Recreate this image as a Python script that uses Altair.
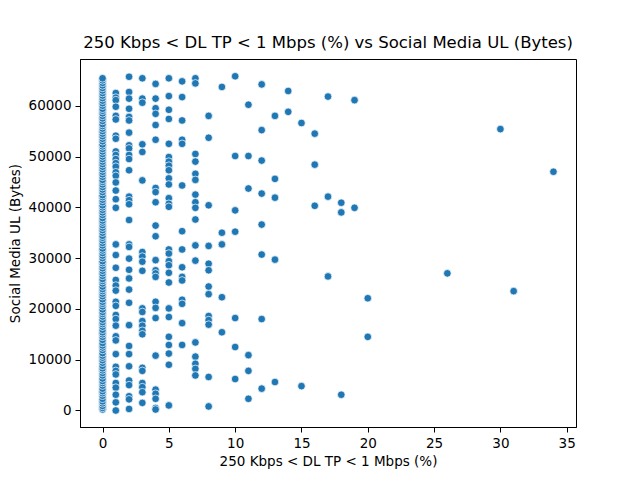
import altair as alt
import pandas as pd

TITLE = "250 Kbps < DL TP < 1 Mbps (%) vs Social Media UL (Bytes)"
X_LABEL = "250 Kbps < DL TP < 1 Mbps (%)"
Y_LABEL = "Social Media UL (Bytes)"

x_ticks = [0, 5, 10, 15, 20, 25, 30, 35]
y_ticks = [0, 10000, 20000, 30000, 40000, 50000, 60000]

# Social Media UL values (thousands of bytes), grouped by DL TP percentage
ul_0 = [0.2, 0.5, 0.9, 1.4, 1.8, 2.3, 2.9, 3.4, 3.8, 4.3, 4.9, 5.4, 5.8, 6.3, 6.9, 7.4,
        7.9, 8.3, 8.8, 9.4, 9.9, 10.4, 10.8, 11.3, 11.9, 12.4, 12.8, 13.3, 13.9, 14.5,
        15.0, 15.4, 15.9, 16.5, 17.0, 17.4, 17.9, 18.5, 19.0, 19.4, 19.9, 20.5, 21.0,
        21.4, 21.9, 22.5, 23.0, 23.5, 23.9, 24.4, 25.0, 25.5, 25.9, 26.5, 27.0, 27.5,
        28.0, 28.5, 29.0, 29.4, 30.0, 30.5, 31.0, 31.5, 31.9, 32.5, 33.0, 33.5, 34.0,
        34.4, 35.0, 35.5, 36.0, 36.5, 37.0, 37.4, 37.9, 38.5, 39.0, 39.5, 40.0, 40.4,
        41.0, 41.5, 42.0, 42.4, 43.0, 43.5, 44.0, 44.5, 45.0, 45.4, 46.0, 46.5, 47.0,
        47.5, 48.0, 48.5, 49.0, 49.5, 50.0, 50.5, 51.0, 51.5, 52.0, 52.4, 53.0, 53.5,
        54.0, 54.5, 55.0, 55.5, 56.0, 56.4, 57.0, 57.5, 58.0, 58.5, 59.0, 59.4, 60.0,
        60.5, 61.0, 61.5, 62.0, 62.5, 63.0, 63.5, 64.0, 64.5, 65.0, 65.4]
ul_1 = [62.5, 61.6, 61.1, 59.8, 58.0, 57.3, 54.1, 53.5, 51.0, 50.3, 49.5, 48.7, 48.0,
        46.9, 46.2, 44.9, 43.3, 41.6, 39.9, 32.7, 30.6, 28.1, 25.7, 24.6, 23.6, 21.4,
        20.6, 18.8, 18.0, 16.7, 14.6, 13.8, 11.1, 8.6, 7.8, 7.1, 5.4, 4.5, 3.1, 1.6, 0.0]
ul_2 = [65.7, 62.7, 61.4, 59.4, 57.8, 57.1, 54.7, 52.2, 51.6, 50.3, 49.5, 47.3, 42.1,
        41.4, 40.6, 37.5, 32.7, 32.2, 29.9, 27.7, 26.0, 23.8, 21.2, 16.8, 12.7, 11.1,
        8.7, 5.9, 5.0, 2.8, 2.2, 0.3]
ul_3 = [65.4, 61.4, 60.6, 52.4, 50.9, 45.3, 31.2, 30.3, 29.3, 27.5, 20.1, 19.4, 17.6,
        16.7, 15.7, 15.0, 8.4, 7.8, 5.4, 4.6, 3.6, 1.5]
ul_4 = [64.3, 61.4, 59.5, 58.4, 56.2, 53.3, 43.8, 43.0, 41.0, 36.4, 34.3, 29.6, 27.6,
        27.0, 26.3, 21.4, 20.2, 18.2, 10.8, 4.1, 3.3, 2.3, 0.5, 0.2]
ul_5 = [65.4, 61.9, 59.2, 57.4, 52.5, 49.9, 49.0, 48.2, 47.3, 45.7, 44.5, 41.8, 40.7,
        40.1, 31.7, 30.9, 29.4, 28.6, 27.1, 25.2, 20.1, 18.4, 14.5, 12.9, 11.2, 9.0, 1.0]
ul_6 = [64.8, 61.7, 57.1, 53.3, 52.5, 44.3, 35.3, 31.7, 28.2, 26.3, 25.6, 21.8, 21.0,
        17.2, 12.9]
ul_7 = [65.4, 64.4, 50.5, 49.0, 46.6, 45.4, 42.5, 41.0, 39.9, 37.6, 32.5, 29.5, 13.4,
        10.6, 9.2, 8.2, 6.9]
ul_8 = [58.0, 53.7, 40.4, 32.4, 28.9, 27.6, 24.4, 22.9, 18.6, 17.8, 16.9, 6.6, 0.8]
ul_9 = [63.7, 35.0, 32.7, 22.3, 15.4]
ul_10 = [65.8, 50.1, 39.4, 35.2, 18.2, 12.5, 6.2]
ul_11 = [60.2, 50.1, 43.7, 10.9, 7.8, 2.3]
ul_12 = [64.2, 55.2, 49.2, 42.7, 36.6, 30.7, 18.0, 4.3]
ul_13 = [58.0, 45.6, 41.9, 29.7, 5.6]
ul_14 = [62.9, 58.8]
ul_15 = [56.6, 4.8]
ul_16 = [54.5, 48.4, 40.3]
ul_17 = [61.8, 42.1, 26.4]
ul_18 = [40.9, 39.0, 3.1]
ul_19 = [61.1, 39.9]
ul_20 = [22.1, 14.5]
ul_26 = [27.0]
ul_30 = [55.4]
ul_31 = [23.5]
ul_34 = [47.0]

groups = {0: ul_0, 1: ul_1, 2: ul_2, 3: ul_3, 4: ul_4, 5: ul_5, 6: ul_6, 7: ul_7,
          8: ul_8, 9: ul_9, 10: ul_10, 11: ul_11, 12: ul_12, 13: ul_13, 14: ul_14,
          15: ul_15, 16: ul_16, 17: ul_17, 18: ul_18, 19: ul_19, 20: ul_20,
          26: ul_26, 30: ul_30, 31: ul_31, 34: ul_34}

rows = [{"dl": k, "ul": round(v * 1000)} for k, vals in groups.items() for v in vals]
df = pd.DataFrame(rows)

FONT = "DejaVu Sans"

chart = alt.Chart(df).mark_circle(
    size=58, color="#1f77b4", opacity=1, stroke="white", strokeWidth=0.7
).encode(
    x=alt.X("dl:Q",
            scale=alt.Scale(domain=[-1.7, 35.7], nice=False, zero=False),
            axis=alt.Axis(values=x_ticks, format="d", title=X_LABEL, titlePadding=5)),
    y=alt.Y("ul:Q",
            scale=alt.Scale(domain=[-3250, 69200], nice=False, zero=False),
            axis=alt.Axis(values=y_ticks, format="d", title=Y_LABEL, titlePadding=6)),
).properties(
    width=496,
    height=368,
    title=alt.TitleParams(TITLE, fontSize=16.5, fontWeight="normal", font=FONT,
                          color="black", offset=8),
    padding={"left": 72, "top": 51, "right": 56, "bottom": 45},
    autosize=alt.AutoSizeParams(type="none"),
).configure_view(
    stroke="black", strokeWidth=1
).configure_axis(
    grid=False,
    domainColor="black",
    domainWidth=1,
    tickColor="black",
    tickSize=5,
    tickWidth=1,
    labelFont=FONT,
    labelFontSize=13.5,
    labelColor="black",
    labelPadding=4,
    titleFont=FONT,
    titleFontSize=13.5,
    titleFontWeight="normal",
    titleColor="black",
)

chart.save("out.html", embed_options={"renderer": "svg", "actions": False})
